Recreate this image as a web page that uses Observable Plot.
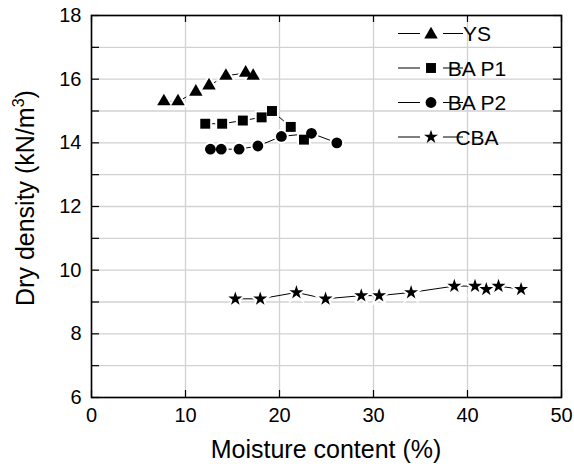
<!DOCTYPE html>
<html><head><meta charset="utf-8">
<script src="https://cdn.jsdelivr.net/npm/d3@7"></script>
<script src="https://cdn.jsdelivr.net/npm/@observablehq/plot@0.6"></script>
<style>body{margin:0;background:#fff}#chart{width:574px;height:464px}</style>
</head><body><div id="chart"></div>
<script>
// ---- data ----
const seriesNames = ["YS", "BA P1", "BA P2", "CBA"];
const seriesSymbols = ["triangle", "square", "circle", "star"];
const moistureYS = [7.7, 9.2, 11.1, 12.5, 14.3, 16.4, 17.2];
const densityYS = [15.3, 15.3, 15.6, 15.8, 16.1, 16.2, 16.1];
const moistureBAP1 = [12.1, 13.9, 16.1, 18.1, 19.2, 21.2, 22.6];
const densityBAP1 = [14.6, 14.6, 14.7, 14.8, 15.0, 14.5, 14.1];
const moistureBAP2 = [12.65, 13.8, 15.7, 17.7, 20.2, 23.4, 26.1];
const densityBAP2 = [13.8, 13.8, 13.8, 13.9, 14.2, 14.3, 14.0];
const moistureCBA = [15.3, 17.95, 21.8, 24.9, 28.7, 30.6, 34.0, 38.6, 40.8, 42.0, 43.3, 45.7];
const densityCBA = [9.1, 9.1, 9.3, 9.1, 9.2, 9.2, 9.3, 9.5, 9.5, 9.4, 9.5, 9.4];
const xTicks = [0, 10, 20, 30, 40, 50];
const yTicks = [6, 8, 10, 12, 14, 16, 18];
const yMinorTicks = [6, 7, 8, 9, 10, 11, 12, 13, 14, 15, 16, 17, 18];
const xTitle = "Moisture content (%)";
const yTitle = "Dry density (kN/m";
const yTitleSup = "3";

// ---- table ----
const seriesX = [moistureYS, moistureBAP1, moistureBAP2, moistureCBA];
const seriesY = [densityYS, densityBAP1, densityBAP2, densityCBA];
const table = [];
seriesNames.forEach((s, i) => seriesX[i].forEach((x, j) => table.push({series: s, x, y: seriesY[i][j]})));

// ---- layout ----
const W = 574, H = 464, mL = 91, mR = 13, mT = 15, mB = 67;
const pw = W - mL - mR, ph = H - mT - mB;
const font = "'Liberation Sans', Arial, sans-serif";
const markerR = {"YS": 5.0, "BA P1": 5.6, "BA P2": 5.4, "CBA": 4.4};

const haloMarks = seriesNames.map((s, i) => Plot.dot(table.filter(d => d.series === s), {
  x: "x", y: "y", symbol: () => seriesSymbols[i], r: markerR[s],
  fill: "white", stroke: "white", strokeWidth: 4
}));
const dotMarks = seriesNames.map((s, i) => Plot.dot(table.filter(d => d.series === s), {
  x: "x", y: "y", symbol: () => seriesSymbols[i], r: markerR[s],
  fill: "black", stroke: "none"
}));

const chart = Plot.plot({
  width: W, height: H, marginLeft: mL, marginRight: mR, marginTop: mT, marginBottom: mB,
  style: {fontFamily: font, background: "white", color: "black"},
  x: {domain: [0, 50], axis: null},
  y: {domain: [6, 18], axis: null},
  symbol: {type: "identity"},
  marks: [
    Plot.gridX(xTicks, {stroke: "#d2d2d2", strokeOpacity: 1, strokeWidth: 1.3}),
    Plot.gridY(yMinorTicks, {stroke: "#d2d2d2", strokeOpacity: 1, strokeWidth: 1.3}),
    Plot.line(table, {x: "x", y: "y", z: "series", stroke: "black", strokeWidth: 1}),
    ...haloMarks,
    ...dotMarks,
    Plot.tickY(yMinorTicks, {y: d => d, stroke: "black", strokeWidth: 1.2, insetRight: pw - 8}),
    Plot.tickY(yMinorTicks, {y: d => d, stroke: "black", strokeWidth: 1.2, insetLeft: pw - 8}),
    Plot.tickX(xTicks, {x: d => d, stroke: "black", strokeWidth: 1.2, insetTop: ph - 7}),
    Plot.tickX(xTicks, {x: d => d, stroke: "black", strokeWidth: 1.2, insetBottom: ph - 7}),
    Plot.frame({stroke: "black", strokeWidth: 1.6}),
    Plot.axisY(yTicks, {tickSize: 0, tickPadding: 10, fontSize: 20, label: null, fill: "black"}),
    Plot.axisX(xTicks, {tickSize: 0, tickPadding: 10, fontSize: 20, label: null, fill: "black"})
  ]
});
document.getElementById("chart").appendChild(chart);

// ---- titles and legend ----
const svg = d3.select(chart);
svg.append("text").attr("x", mL + pw / 2).attr("y", 458).attr("text-anchor", "middle")
  .attr("font-family", font).attr("font-size", 25).attr("fill", "black").text(xTitle);
const yt = svg.append("text").attr("transform", `translate(34,198) rotate(-90)`)
  .attr("text-anchor", "middle").attr("font-family", font).attr("font-size", 25).attr("fill", "black");
yt.append("tspan").text(yTitle);
yt.append("tspan").attr("font-size", 16).attr("dy", -10).text(yTitleSup);
yt.append("tspan").attr("dy", 10).text(")");

const leg = svg.append("g");
const symMap = {triangle: d3.symbolTriangle, square: d3.symbolSquare, circle: d3.symbolCircle, star: d3.symbolStar};
seriesNames.forEach((s, i) => {
  const cy = 33.5 + i * 34.5;
  const g = leg.append("g").attr("transform", `translate(0,${cy})`);
  g.append("line").attr("x1", 398).attr("x2", 420).attr("y1", 0).attr("y2", 0).attr("stroke", "black").attr("stroke-width", 1);
  g.append("line").attr("x1", 443).attr("x2", 463).attr("y1", 0).attr("y2", 0).attr("stroke", "black").attr("stroke-width", 1);
  g.append("path").attr("d", d3.symbol(symMap[seriesSymbols[i]], Math.PI * markerR[s] ** 2)())
    .attr("transform", `translate(431,${s === "YS" ? 1 : 0})`).attr("fill", "black");
  g.append("text").attr("x", 477).attr("y", 0).attr("dy", "0.36em").attr("font-family", font)
    .attr("font-size", 21).attr("fill", "black").text(s);
});
</script></body></html>
